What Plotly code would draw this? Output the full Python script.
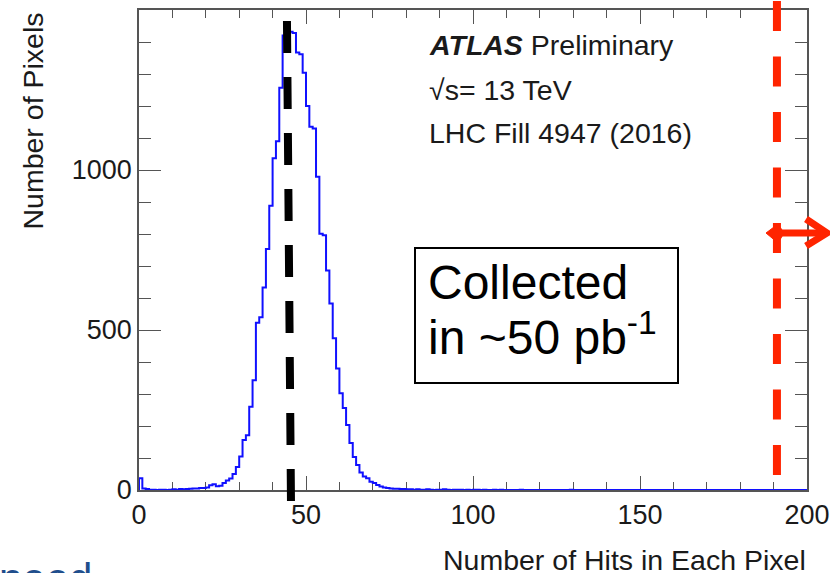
import numpy as np
import plotly.graph_objects as go

# Histogram: number of pixels per number-of-hits bin (1-hit bins, 0..200)
bin_width = 1
bin_counts = [
    37, 5, 3, 1, 1, 0, 1, 1, 0, 1,
    2, 1, 3, 2, 3, 4, 5, 5, 6, 6,
    8, 15, 18, 12, 13, 22, 30, 36, 50, 72,
    105, 156, 171, 260, 343, 523, 540, 633, 753, 888,
    1037, 1090, 1257, 1420, 1425, 1432, 1428, 1367, 1362, 1304,
    1200, 1135, 1130, 979, 801, 796, 686, 583, 474, 380,
    302, 256, 203, 147, 103, 78, 55, 42, 37, 26,
    22, 16, 11, 8, 6, 5, 4, 4, 3, 3,
    2, 2, 1, 2, 1, 1, 2, 1, 0, 1,
    1, 2, 1, 0, 1, 1, 1, 0, 1, 0,
    1, 1, 0, 1, 0, 0, 1, 0, 1, 0,
    0, 0, 0, 0, 1, 0, 0, 0, 0, 0,
    0, 0, 0, 0, 0, 0, 0, 0, 0, 1,
] + [0] * 70

x_ticks = [0, 50, 100, 150, 200]
y_ticks = [0, 500, 1000]
mean_marker = (44.3, 45.5)   # dashed black marker (top x, bottom x)
cut_value = 191              # dashed red threshold

W, H = 830, 573
L, R, T, B = 139, 23, 10, 83
PW, PH = W - L - R, H - T - B


def px(x):
    return (x - L) / PW


def py(y):
    return (H - B - y) / PH


edges = np.arange(len(bin_counts) + 1) * bin_width
xs = [0] + list(edges)
ys = [0] + list(bin_counts) + [bin_counts[-1]]

font_fam = "Arial, Liberation Sans, Helvetica, sans-serif"
txt_col = "#1a1a1a"
red = "#FF2400"

fig = go.Figure()
fig.add_trace(go.Scatter(
    x=xs, y=ys, mode="lines", line=dict(color="#1010FF", width=2, shape="hv"),
    hoverinfo="skip", showlegend=False,
))

axis_common = dict(
    showline=True, linecolor="#555", linewidth=1.5, mirror="ticks",
    ticks="inside", tickcolor="#555", tickwidth=1.2,
    showgrid=False, zeroline=False, layer="below traces", automargin=False,
    tickfont=dict(family=font_fam, size=27, color=txt_col),
)

fig.update_xaxes(
    range=[0, 200], tickvals=x_ticks, ticklen=14,
    minor=dict(dtick=10, ticks="inside", ticklen=8, tickcolor="#555", tickwidth=1.2),
    **axis_common,
)
fig.update_yaxes(
    range=[0, 1500], tickvals=y_ticks, ticklen=22,
    minor=dict(dtick=100, ticks="inside", ticklen=12, tickcolor="#555", tickwidth=1.2),
    **axis_common,
)

shapes = []
# black dashed marker at the peak
shapes.append(dict(
    type="line", xref="x", yref="paper",
    x0=mean_marker[0], y0=py(21), x1=mean_marker[1], y1=py(501),
    line=dict(color="black", width=8, dash="32px,24px"), layer="above",
))
# red dashed threshold line
shapes.append(dict(
    type="line", xref="x", yref="paper",
    x0=cut_value, y0=py(475), x1=cut_value, y1=py(-5),
    line=dict(color=red, width=8, dash="30px,25.5px"), layer="above",
))
# red double arrow
ay = 233
shapes.append(dict(
    type="line", xref="paper", yref="paper",
    x0=px(772), y0=py(ay), x1=px(827), y1=py(ay),
    line=dict(color=red, width=7), layer="above",
))
shapes.append(dict(
    type="path", xref="paper", yref="paper",
    path=f"M {px(766)} {py(ay)} L {px(778)} {py(ay-9)} L {px(784)} {py(ay)} L {px(778)} {py(ay+10)} Z",
    fillcolor=red, line=dict(color=red, width=1), layer="above",
))
shapes.append(dict(
    type="path", xref="paper", yref="paper",
    path=f"M {px(806)} {py(ay-14)} L {px(827)} {py(ay)} L {px(806)} {py(ay+13)}",
    line=dict(color=red, width=7), layer="above",
))
# info box border
shapes.append(dict(
    type="rect", xref="paper", yref="paper",
    x0=px(415), y0=py(383), x1=px(678), y1=py(248),
    line=dict(color="black", width=2), fillcolor="rgba(0,0,0,0)", layer="above",
))

annotations = [
    dict(text="<b><i>ATLAS</i></b> Preliminary", x=px(427), y=py(45),
         font=dict(size=28.5)),
    dict(text="√s= 13 TeV", x=px(427), y=py(90), font=dict(size=28.5)),
    dict(text="LHC Fill 4947 (2016)", x=px(427), y=py(133), font=dict(size=28.5)),
    dict(text="Collected", x=px(426), y=py(282), font=dict(size=48, color="black")),
    dict(text="in ~50 pb<sup>-1</sup>", x=px(426), y=py(334), font=dict(size=48, color="black")),
    dict(text="Number of Hits in Each Pixel", x=px(808), y=py(560), xanchor="right",
         font=dict(size=28.5)),
    dict(text="Number of Pixels", x=px(32), y=py(10), xanchor="center", yanchor="top",
         textangle=-90, font=dict(size=28.5)),
    dict(text="need", x=px(-3), y=py(578), xanchor="left", yanchor="middle",
         font=dict(size=42, color="#1F4E8C")),
]
for a in annotations:
    a.setdefault("xref", "paper")
    a.setdefault("yref", "paper")
    a.setdefault("xanchor", "left")
    a.setdefault("yanchor", "middle")
    a["showarrow"] = False
    f = a["font"]
    f.setdefault("family", font_fam)
    f.setdefault("color", txt_col)

fig.update_layout(
    width=W, height=H,
    margin=dict(l=L, r=R, t=T, b=B, pad=0, autoexpand=False),
    paper_bgcolor="white", plot_bgcolor="white",
    shapes=shapes, annotations=annotations,
    showlegend=False,
)

fig.write_html("out.html", config={"displayModeBar": False})
